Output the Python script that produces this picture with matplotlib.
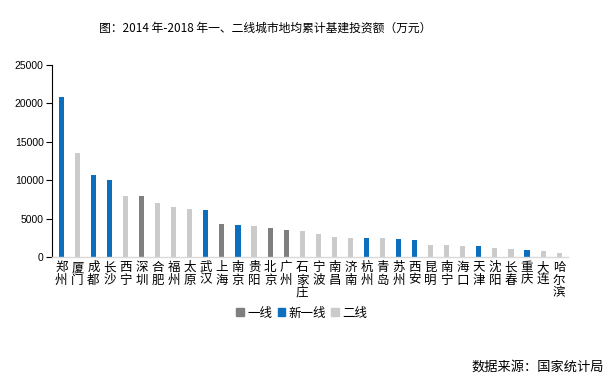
import matplotlib
matplotlib.use("Agg")
import matplotlib.pyplot as plt
from matplotlib.patches import Patch

plt.rcParams['font.family'] = ['Noto Sans CJK SC', 'DejaVu Sans']

cities = ["郑州", "厦门", "成都", "长沙", "西宁", "深圳", "合肥", "福州", "太原", "武汉",
          "上海", "南京", "贵阳", "北京", "广州", "石家庄", "宁波", "南昌", "济南", "杭州",
          "青岛", "苏州", "西安", "昆明", "南宁", "海口", "天津", "沈阳", "长春", "重庆",
          "大连", "哈尔滨"]
values = [20800, 13500, 10650, 10000, 7900, 7900, 7000, 6500, 6200, 6100,
          4260, 4130, 4000, 3740, 3480, 3350, 3000, 2570, 2440, 2440,
          2440, 2300, 2170, 1570, 1570, 1390, 1390, 1130, 1040, 870,
          780, 570]
tiers = ["新一线", "二线", "新一线", "新一线", "二线", "一线", "二线", "二线", "二线", "新一线",
         "一线", "新一线", "二线", "一线", "一线", "二线", "二线", "二线", "二线", "新一线",
         "二线", "新一线", "新一线", "二线", "二线", "二线", "新一线", "二线", "二线", "新一线",
         "二线", "二线"]
tier_order = ["一线", "新一线", "二线"]
tier_colors = {"一线": "#7f7f7f", "新一线": "#0b6fbe", "二线": "#cbcbcb"}
yticks = [0, 5000, 10000, 15000, 20000, 25000]

fig = plt.figure(figsize=(6.16, 3.82), dpi=100)
ax = fig.add_axes([52/616, 1-257/382, (568-52)/616, (257-65)/382])

x = list(range(len(cities)))
ax.bar(x, values, width=0.32, color=[tier_colors[t] for t in tiers])
ax.set_xlim(-0.58, len(cities) - 0.45)
ax.set_ylim(0, 25000)
ax.set_yticks(yticks)
ax.set_yticklabels([str(v) for v in yticks], fontsize=7.5, family=['Liberation Sans', 'DejaVu Sans'])
ax.tick_params(axis='y', direction='out', length=4, width=0.8, color='black', pad=2)
ax.set_xticks(x)
ax.set_xticklabels(["\n".join(c) for c in cities], fontsize=9, linespacing=0.95, va='top')
ax.tick_params(axis='x', length=0, pad=3)
for s in ['top', 'right']:
    ax.spines[s].set_visible(False)
ax.spines['left'].set_color('black')
ax.spines['left'].set_linewidth(0.8)
ax.spines['bottom'].set_color('#d9d9d9')
ax.spines['bottom'].set_linewidth(1.0)

fig.text(265/616, 1-28/382, "图：2014 年-2018 年一、二线城市地均累计基建投资额（万元）",
         ha='center', va='center', fontsize=8.5)

handles = [Patch(color=tier_colors[t], label=t) for t in tier_order]
fig.legend(handles=handles, loc='center', bbox_to_anchor=(302/616, 1-313/382), ncol=3,
           frameon=False, fontsize=9, handlelength=0.6, handleheight=0.6,
           handletextpad=0.3, columnspacing=0.4)

fig.text(604/616, 1-367/382, "数据来源：国家统计局", ha='right', va='center', fontsize=9.5)

fig.savefig("out.png", dpi=100)
